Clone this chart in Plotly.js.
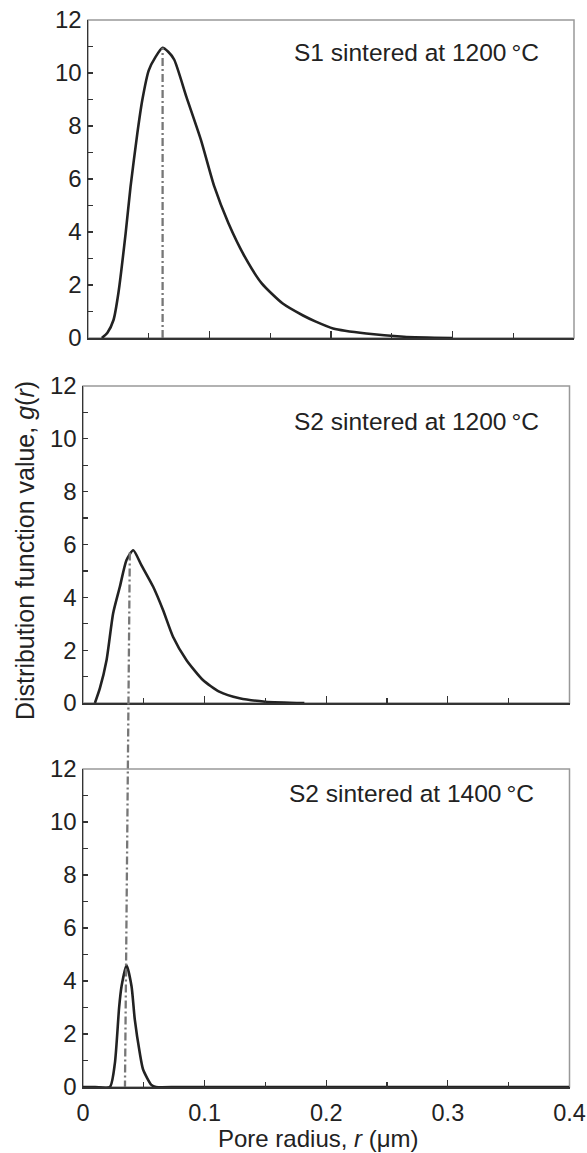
<!DOCTYPE html>
<html>
<head>
<meta charset="utf-8">
<script src="https://cdn.plot.ly/plotly-3.0.1.min.js"></script>
<style>html,body{margin:0;padding:0;background:#fff;}#chart{width:587px;height:1153px;}</style>
</head>
<body>
<div id="chart"></div>
<script>
// ---- data ----
const panelLabels = ["S1 sintered at 1200\u2009\u00b0C", "S2 sintered at 1200\u2009\u00b0C", "S2 sintered at 1400\u2009\u00b0C"];
const r1 = [0.0114, 0.016, 0.021, 0.025, 0.031, 0.035, 0.0406, 0.0447, 0.050, 0.0555, 0.0614, 0.066, 0.071, 0.081, 0.093, 0.104, 0.1156, 0.129, 0.143, 0.160, 0.177, 0.1875, 0.2017, 0.229, 0.26, 0.30];
const g1 = [0, 0.2, 0.68, 1.69, 3.96, 5.7, 7.72, 8.98, 10.1, 10.6, 10.95, 10.8, 10.5, 9.1, 7.47, 5.71, 4.33, 3.07, 2.06, 1.31, 0.85, 0.62, 0.36, 0.17, 0.05, 0];
const r2 = [0.0098, 0.0139, 0.0194, 0.0248, 0.0303, 0.0358, 0.0413, 0.048, 0.0577, 0.0658, 0.074, 0.085, 0.0986, 0.112, 0.1287, 0.15, 0.182];
const g2 = [0, 0.56, 1.63, 3.4, 4.4, 5.41, 5.78, 5.22, 4.4, 3.52, 2.51, 1.63, 0.87, 0.43, 0.18, 0.05, 0];
const r3 = [0, 0.01, 0.0221, 0.0262, 0.0297, 0.0317, 0.0358, 0.0399, 0.0426, 0.0467, 0.0494, 0.0562, 0.060, 0.08, 0.4];
const g3 = [0, 0, 0, 0.89, 3.0, 3.8, 4.59, 3.8, 2.54, 1.28, 0.66, 0.08, 0, 0, 0];
const modeR = [0.0614, 0.0385, 0.0345];   // dash-dot marker positions
const modeG = [10.95, 5.7, 0];            // heights where dash-dot lines end
const xTicks = [0, 0.1, 0.2, 0.3, 0.4];
const xTickText = ["0", "0.1", "0.2", "0.3", "0.4"];
const yTicks = [0, 2, 4, 6, 8, 10, 12];

// ---- layout geometry (pixels) ----
const W = 587, H = 1153;
const px = v => v / W, py = v => 1 - v / H;
const yDom = [[py(338), py(20)], [py(703), py(386)], [py(1087), py(769)]];
const xDom = [[px(88), px(574)], [px(83), px(569.5)], [px(83), px(569.5)]];

const FONT = "Liberation Sans, Arial, Helvetica, sans-serif";
const curveStyle = {color: "#222", width: 2.6, shape: "spline", smoothing: 0.6};
const dashStyle = {color: "#777", width: 2.3, dash: "8px,3px,2px,3px"};

const traces = [
  {x: r1, y: g1, xaxis: "x", yaxis: "y", mode: "lines", line: curveStyle, hoverinfo: "x+y"},
  {x: r2, y: g2, xaxis: "x2", yaxis: "y2", mode: "lines", line: curveStyle, hoverinfo: "x+y"},
  {x: r3, y: g3, xaxis: "x3", yaxis: "y3", mode: "lines", line: curveStyle, hoverinfo: "x+y"},
  {x: [modeR[0], modeR[0]], y: [0, modeG[0]], xaxis: "x", yaxis: "y", mode: "lines", line: dashStyle, hoverinfo: "skip"}
];

function xa(i, labels) {
  return {
    domain: xDom[i], anchor: i === 0 ? "y" : "y" + (i + 1), range: [0, 0.40001],
    showgrid: false, zeroline: false, showline: true, linecolor: "#333", linewidth: 1.5,
    ticks: "inside", ticklen: 7, tickwidth: 1.2, tickcolor: "#333",
    tickvals: xTicks, ticktext: xTickText, showticklabels: labels,
    ticklabelstandoff: 4, ticklabeloverflow: "allow",
    minor: {dtick: 0.05, ticks: "inside", ticklen: 5, tickwidth: 1.2, tickcolor: "#333"},
    tickfont: {family: FONT, size: 23.5, color: "#222"}, fixedrange: true
  };
}
function ya(i) {
  return {
    domain: yDom[i], anchor: i === 0 ? "x" : "x" + (i + 1), range: [0, 12],
    showgrid: false, zeroline: false, showline: true, linecolor: "#333", linewidth: 1.5,
    ticks: "inside", ticklen: 5, tickwidth: 1.2, tickcolor: "#333",
    tickvals: yTicks, ticklabelstandoff: 0,
    minor: {dtick: 1, ticks: "inside", ticklen: 5, tickwidth: 1.2, tickcolor: "#333"},
    tickfont: {family: FONT, size: 24, color: "#222"}, fixedrange: true
  };
}

const shapes = [0, 1, 2].map(i => ({
  type: "rect", xref: (i === 0 ? "x" : "x" + (i + 1)) + " domain", yref: (i === 0 ? "y" : "y" + (i + 1)) + " domain",
  x0: 0, x1: 1, y0: 0, y1: 1, line: {color: "#999", width: 1.5}, layer: "below"
}));
// dash-dot line crossing from middle panel peak to bottom panel base
const midY = yDom[1][0] + modeG[1] / 12 * (yDom[1][1] - yDom[1][0]);
const botY = yDom[2][0] + modeG[2] / 12 * (yDom[2][1] - yDom[2][0]);
shapes.push({type: "line", xref: "x3", yref: "paper", x0: modeR[1], x1: modeR[2], y0: midY, y1: botY, line: dashStyle, layer: "above"});

const annY = [52, 422, 793];
const annX = [292, 292, 287];
const annotations = panelLabels.map((t, i) => ({
  text: t, xref: "paper", yref: "paper", x: px(annX[i]), y: py(annY[i]), xanchor: "left", yanchor: "middle",
  showarrow: false, font: {family: FONT, size: 24.5, color: "#222"}
}));
annotations.push({text: "Distribution function value, <i>g</i>(<i>r</i>)", xref: "paper", yref: "paper",
  x: px(25), y: py(551), xanchor: "center", yanchor: "middle", textangle: -90, showarrow: false,
  font: {family: FONT, size: 25, color: "#222"}});
annotations.push({text: "Pore radius, <i>r</i> (\u03bcm)", xref: "paper", yref: "paper",
  x: px(318), y: py(1138), xanchor: "center", yanchor: "middle", showarrow: false,
  font: {family: FONT, size: 24, color: "#222"}});

const layout = {
  width: W, height: H, margin: {l: 0, r: 0, t: 0, b: 0},
  paper_bgcolor: "#fff", plot_bgcolor: "#fff", showlegend: false,
  xaxis: xa(0, false), yaxis: ya(0),
  xaxis2: xa(1, false), yaxis2: ya(1),
  xaxis3: xa(2, true), yaxis3: ya(2),
  shapes: shapes, annotations: annotations
};

Plotly.newPlot("chart", traces, layout, {displayModeBar: false, staticPlot: true});
</script>
</body>
</html>
